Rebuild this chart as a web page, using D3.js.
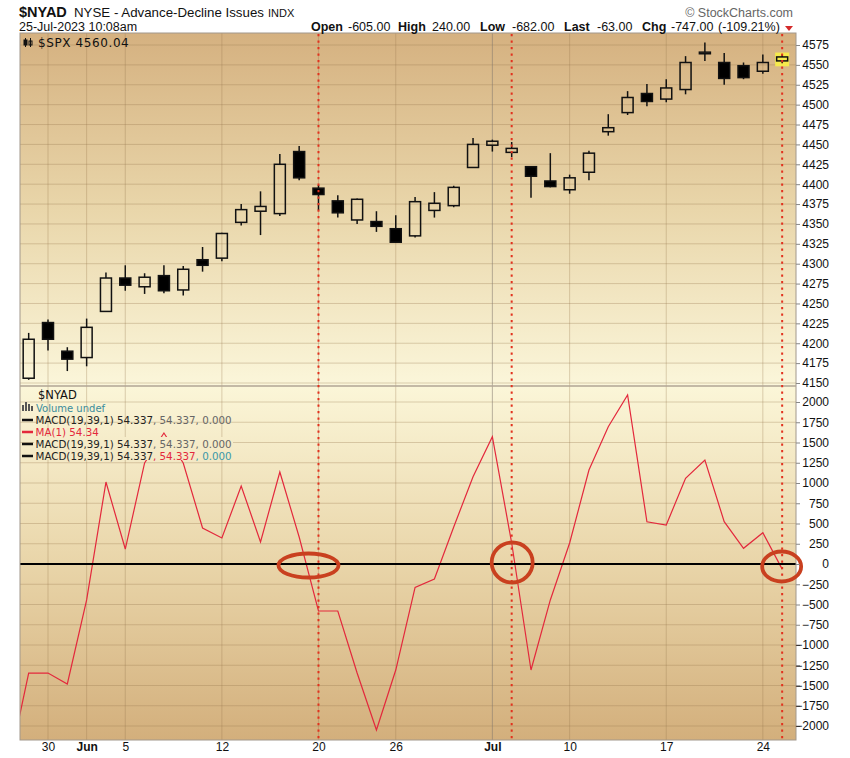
<!DOCTYPE html>
<html><head><meta charset="utf-8">
<script src="https://cdn.jsdelivr.net/npm/d3@7"></script>
<style>
body{margin:0;background:#fff;}
svg{display:block;font-family:"Liberation Sans",Arial,sans-serif;}
</style>
</head><body>
<svg id="chart" width="850" height="758"></svg>
<script>
// ---------- DATA ----------
const dates = ["2023-05-25","2023-05-26","2023-05-30","2023-05-31","2023-06-01","2023-06-02","2023-06-05","2023-06-06","2023-06-07","2023-06-08","2023-06-09","2023-06-12","2023-06-13","2023-06-14","2023-06-15","2023-06-16","2023-06-20","2023-06-21","2023-06-22","2023-06-23","2023-06-26","2023-06-27","2023-06-28","2023-06-29","2023-06-30","2023-07-03","2023-07-05","2023-07-06","2023-07-07","2023-07-10","2023-07-11","2023-07-12","2023-07-13","2023-07-14","2023-07-17","2023-07-18","2023-07-19","2023-07-20","2023-07-21","2023-07-24","2023-07-25"];
const spxOpen  = [null,4156,4226,4190,4182,4240,4282,4271,4285,4267,4305,4307,4352,4366,4363,4441,4395,4379,4355,4353,4344,4335,4367,4373,4421,4449,4440,4422,4404,4393,4415,4466,4490,4514,4507,4519,4564,4553,4549,4542,4555];
const spxHigh  = [null,4213,4230,4195,4231,4289,4298,4288,4298,4297,4321,4339,4375,4391,4438,4448,4399,4386,4382,4366,4361,4384,4390,4398,4458,4456,4453,4422,4439,4412,4442,4488,4517,4526,4532,4561,4578,4565,4553,4563,4563];
const spxLow   = [null,4154,4191,4165,4171,4240,4266,4262,4263,4260,4290,4303,4348,4336,4360,4405,4367,4358,4350,4340,4326,4333,4358,4371,4421,4441,4434,4383,4396,4388,4405,4461,4487,4498,4503,4513,4555,4525,4532,4539,4552];
const spxClose = [null,4205,4205,4180,4220,4282,4273,4283,4266,4293,4298,4338,4368,4372,4425,4408,4387,4364,4381,4347,4327,4378,4376,4396,4450,4454,4445,4410,4397,4408,4439,4471,4509,4504,4521,4553,4566,4533,4534,4553,4560];
const nyadValues = [-2470,-1346,-1346,-1481,-444,1012,185,1247,1617,1247,444,321,963,272,1136,333,-580,-580,-1346,-2049,-1309,-288,-185,457,1078,1572,259,-1309,-444,259,1160,1695,2086,522,481,1058,1284,522,194,386,-63];
const xTickDates  = ["2023-05-30","2023-06-01","2023-06-05","2023-06-12","2023-06-20","2023-06-26","2023-07-03","2023-07-10","2023-07-17","2023-07-24"];
const xTickLabels = ["30","Jun","5","12","20","26","Jul","10","17","24"];
const spxTicks  = [4575,4550,4525,4500,4475,4450,4425,4400,4375,4350,4325,4300,4275,4250,4225,4200,4175,4150];
const nyadTicks = [2000,1750,1500,1250,1000,750,500,250,0,-250,-500,-750,-1000,-1250,-1500,-1750,-2000];
const markerDates = ["2023-06-20","2023-07-05","2023-07-25"];

(function(){
// ---------- LAYOUT ----------
const L = 20, R = 796, T1 = 33, B1 = 386, T2 = 386, B2 = 740;
const svg = d3.select("#chart");
const defs = svg.append("defs");

const gTop = defs.append("linearGradient").attr("id","gTop").attr("gradientUnits","userSpaceOnUse")
  .attr("x1",0).attr("y1",T1).attr("x2",0).attr("y2",B1);
gTop.append("stop").attr("offset",0).attr("stop-color","#d5b180");
gTop.append("stop").attr("offset",0.5).attr("stop-color","#e9d6aa");
gTop.append("stop").attr("offset",1).attr("stop-color","#fbf6da");
const gBot = defs.append("linearGradient").attr("id","gBot").attr("gradientUnits","userSpaceOnUse")
  .attr("x1",0).attr("y1",T2).attr("x2",0).attr("y2",B2);
gBot.append("stop").attr("offset",0).attr("stop-color","#fbf6d8");
gBot.append("stop").attr("offset",0.5).attr("stop-color","#e9d5a9");
gBot.append("stop").attr("offset",1).attr("stop-color","#d3af7c");

defs.append("clipPath").attr("id","clipTop").append("rect").attr("x",L).attr("y",T1).attr("width",R-L).attr("height",B1-T1);
defs.append("clipPath").attr("id","clipBot").append("rect").attr("x",L).attr("y",T2).attr("width",R-L).attr("height",B2-T2);

// ---------- SCALES ----------
const x = d3.scalePoint().domain(dates).range([9.36, 782.16]);
const yTop = d3.scaleLinear().domain([4150,4575]).range([383,45]);
const yBot = d3.scaleLinear().domain([-2000,2000]).range([726,402]);

// ---------- BACKGROUNDS ----------
svg.append("rect").attr("x",L).attr("y",T1).attr("width",R-L).attr("height",B1-T1).attr("fill","url(#gTop)");
svg.append("rect").attr("x",L).attr("y",T2).attr("width",R-L).attr("height",B2-T2).attr("fill","url(#gBot)");

// grid
const gridCol = "rgba(150,118,78,0.32)";
svg.append("g").selectAll("line").data(spxTicks).join("line")
  .attr("x1",L).attr("x2",R).attr("y1",d=>yTop(d)).attr("y2",d=>yTop(d))
  .attr("stroke",gridCol).attr("stroke-width",1);
svg.append("g").selectAll("line").data(nyadTicks).join("line")
  .attr("x1",L).attr("x2",R).attr("y1",d=>yBot(d)).attr("y2",d=>yBot(d))
  .attr("stroke",gridCol).attr("stroke-width",1);
svg.append("g").selectAll("line").data(xTickDates).join("line")
  .attr("x1",d=>x(d)).attr("x2",d=>x(d)).attr("y1",T1).attr("y2",B2)
  .attr("stroke",(d,i)=>xTickLabels[i]==="Jul"?"rgba(130,120,110,0.55)":gridCol).attr("stroke-width",1);

// ---------- CANDLES ----------
const candles = dates.map((d,i)=>({date:d,o:spxOpen[i],h:spxHigh[i],l:spxLow[i],c:spxClose[i]})).filter(d=>d.o!==null);
const last = candles[candles.length-1];
const topG = svg.append("g").attr("clip-path","url(#clipTop)");
topG.append("rect").attr("x",x(last.date)-7).attr("y",yTop(last.h)-2)
  .attr("width",14).attr("height",yTop(last.l)-yTop(last.h)+5).attr("fill","#f6ea4c");
const cg = topG.selectAll("g.c").data(candles).join("g");
cg.append("line").attr("x1",d=>x(d.date)).attr("x2",d=>x(d.date))
  .attr("y1",d=>yTop(d.h)).attr("y2",d=>yTop(Math.max(d.o,d.c))).attr("stroke","#111").attr("stroke-width",1.5);
cg.append("line").attr("x1",d=>x(d.date)).attr("x2",d=>x(d.date))
  .attr("y1",d=>yTop(Math.min(d.o,d.c))).attr("y2",d=>yTop(d.l)).attr("stroke","#111").attr("stroke-width",1.5);
cg.append("rect").attr("x",d=>x(d.date)-5.5).attr("width",11)
  .attr("y",d=>yTop(Math.max(d.o,d.c)))
  .attr("height",d=>Math.max(1.5,Math.abs(yTop(d.o)-yTop(d.c))))
  .attr("fill",d=>d.c>=d.o?"none":"#000").attr("stroke","#111").attr("stroke-width",1.5);

// ---------- NYAD LINE ----------
const botG = svg.append("g").attr("clip-path","url(#clipBot)");
const pts = dates.map((d,i)=>({date:d,v:nyadValues[i]}));
botG.append("path").datum(pts)
  .attr("d",d3.line().x(d=>x(d.date)).y(d=>yBot(d.v)))
  .attr("fill","none").attr("stroke","#e3283c").attr("stroke-width",1.2);

svg.append("rect").attr("x",34).attr("y",437).attr("width",199).attr("height",23).attr("fill","url(#gBot)");

svg.append("line").attr("x1",L).attr("x2",R).attr("y1",yBot(0)).attr("y2",yBot(0))
  .attr("stroke","#000").attr("stroke-width",2);

// ---------- FRAMES ----------
svg.append("rect").attr("x",L).attr("y",T1).attr("width",R-L).attr("height",B2-T1)
  .attr("fill","none").attr("stroke","#a2988c").attr("stroke-width",1);
svg.append("line").attr("x1",L).attr("x2",R).attr("y1",B1).attr("y2",B1).attr("stroke","#b0a494").attr("stroke-width",1.5);

svg.append("g").selectAll("line").data(markerDates).join("line")
  .attr("x1",d=>x(d)).attr("x2",d=>x(d)).attr("y1",T1+1).attr("y2",B2)
  .attr("stroke","#e2321e").attr("stroke-width",2).attr("stroke-dasharray","2.2,4.3");

const ann = [
  {date:"2023-06-20", dx:-10, dy:1.5, rx:30, ry:12},
  {date:"2023-07-05", dx:0.5, dy:-1.5, rx:20.5, ry:20},
  {date:"2023-07-25", dx:-0.5, dy:2.5, rx:19.5, ry:15}
];
svg.append("g").selectAll("ellipse").data(ann).join("ellipse")
  .attr("cx",d=>x(d.date)+d.dx).attr("cy",d=>yBot(0)+d.dy).attr("rx",d=>d.rx).attr("ry",d=>d.ry)
  .attr("fill","none").attr("stroke","#c9401f").attr("stroke-width",3.8);

// ---------- AXES ----------
const axTop = svg.append("g").attr("transform",`translate(${R},0)`)
  .call(d3.axisRight(yTop).tickValues(spxTicks).tickSize(4).tickFormat(d3.format("d")));
const axBot = svg.append("g").attr("transform",`translate(${R},0)`)
  .call(d3.axisRight(yBot).tickValues(nyadTicks).tickSize(4).tickFormat(d3.format("d")));
[axTop,axBot].forEach(a=>{
  a.select(".domain").remove();
  a.selectAll(".tick line").attr("stroke","#888");
  a.selectAll(".tick text").attr("x",33).attr("text-anchor","end")
    .attr("font-family","Liberation Sans, Arial, sans-serif").attr("font-size",12).attr("fill","#111");
});
const axX = svg.append("g").attr("transform",`translate(0,${B2})`)
  .call(d3.axisBottom(x).tickValues(xTickDates).tickSize(0).tickFormat((d,i)=>xTickLabels[i]));
axX.select(".domain").remove();
axX.selectAll(".tick text").attr("y",11).attr("dy","0")
  .attr("font-family","Liberation Sans, Arial, sans-serif").attr("font-size",12).attr("fill","#111")
  .attr("font-weight",(d,i)=>(xTickLabels[i]==="Jun"||xTickLabels[i]==="Jul")?"bold":"normal");

// ---------- HEADER ----------
const hdr = svg.append("g").attr("fill","#111");
hdr.append("text").attr("x",19).attr("y",17).attr("font-size",14.5).attr("font-weight","bold").text("$NYAD");
hdr.append("text").attr("x",74).attr("y",17).attr("font-size",13.3).text("NYSE - Advance-Decline Issues");
hdr.append("text").attr("x",268).attr("y",17).attr("font-size",11).text("INDX");
hdr.append("text").attr("x",19).attr("y",31).attr("font-size",12.5).text("25-Jul-2023 10:08am");
svg.append("text").attr("x",793).attr("y",17).attr("text-anchor","end").attr("font-size",12.5)
  .attr("fill","#666").text("\u00A9 StockCharts.com");
const stats = [
  {x:311,t:"Open",b:true},{x:348,t:"-605.00"},{x:398,t:"High",b:true},{x:432,t:"240.00"},
  {x:480,t:"Low",b:true},{x:512,t:"-682.00"},{x:564,t:"Last",b:true},{x:597,t:"-63.00"},
  {x:642,t:"Chg",b:true},{x:671,t:"-747.00"},{x:718,t:"(-109.21%)"}];
hdr.selectAll("text.s").data(stats).join("text").attr("class","s")
  .attr("x",d=>d.x).attr("y",31).attr("font-size",12.5).attr("font-weight",d=>d.b?"bold":"normal").text(d=>d.t);
svg.append("path").attr("d","M785,26 L793,26 L789,31 Z").attr("fill","#d42a2a");

// ---------- LEGENDS ----------
const ic = svg.append("g").attr("stroke","#111").attr("stroke-width",1);
ic.append("line").attr("x1",25.5).attr("x2",25.5).attr("y1",38).attr("y2",47);
ic.append("rect").attr("x",24).attr("y",40).attr("width",3).attr("height",5).attr("fill","#111");
ic.append("line").attr("x1",30.5).attr("x2",30.5).attr("y1",38).attr("y2",47);
ic.append("rect").attr("x",29).attr("y",41).attr("width",3).attr("height",4).attr("fill","none");
svg.append("text").attr("x",38).attr("y",47).attr("font-family","DejaVu Sans, Verdana, sans-serif")
  .attr("font-size",12).attr("letter-spacing",0.6).attr("fill","#111").text("$SPX 4560.04");

const lg = svg.append("g").attr("font-family","DejaVu Sans, Verdana, sans-serif");
lg.append("text").attr("x",38).attr("y",399).attr("font-size",11.5).attr("fill","#111").text("$NYAD");
[[22,405,2,6],[25,402,2,9],[28,404,2,7],[31,406,2,5]].forEach(b=>
  lg.append("rect").attr("x",b[0]).attr("y",b[1]).attr("width",b[2]).attr("height",b[3]).attr("fill","#555"));
lg.append("text").attr("x",36).attr("y",411.5).attr("font-size",10).attr("fill","#3b8c9c").text("Volume undef");
const rows = [
  {y:424,dash:"#111",parts:[["MACD(19,39,1) 54.337","#222"],[", 54.337, 0.000","#666"]]},
  {y:436,dash:"#e3283c",parts:[["MA(1) 54.34","#e3283c"]]},
  {y:448,dash:"#111",parts:[["MACD(19,39,1) 54.337","#222"],[", 54.337, 0.000","#666"]]},
  {y:460,dash:"#111",parts:[["MACD(19,39,1) 54.337","#222"],[", 54.337","#e3283c"],[", 0.000","#3b98a8"]]}
];
rows.forEach(r=>{
  lg.append("line").attr("x1",22).attr("x2",33).attr("y1",r.y-4).attr("y2",r.y-4).attr("stroke",r.dash).attr("stroke-width",2.5);
  const t = lg.append("text").attr("x",35.5).attr("y",r.y).attr("font-size",10.3);
  r.parts.forEach(p=>t.append("tspan").attr("fill",p[1]).text(p[0]));
});
})();
</script>
</body></html>
